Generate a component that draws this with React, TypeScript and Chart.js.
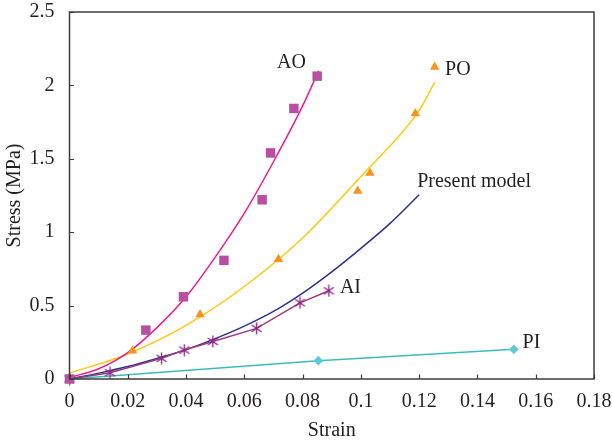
import { useEffect, useRef } from "react";
import { Chart, registerables } from "chart.js";

Chart.register(...registerables);

// Axis ticks
const xTickValues = [0, 0.02, 0.04, 0.06, 0.08, 0.1, 0.12, 0.14, 0.16, 0.18];
const yTickValues = [0, 0.5, 1, 1.5, 2, 2.5];

// AO: measured points and fitted curve
const aoStrain = [0, 0.0262, 0.0391, 0.053, 0.0661, 0.069, 0.077, 0.085];
const aoStress = [0, 0.333, 0.56, 0.808, 1.221, 1.54, 1.843, 2.063];
const aoFitStrain = [0, 0.01, 0.02, 0.03, 0.04, 0.05, 0.06, 0.07, 0.08, 0.0855];
const aoFitStress = [0.01, 0.07, 0.18, 0.35, 0.56, 0.83, 1.13, 1.48, 1.86, 2.1];

// PO: measured points and fitted curve
const poStrain = [0, 0.0216, 0.0448, 0.0717, 0.0989, 0.1031, 0.1187, 0.1253];
const poStress = [0, 0.193, 0.44, 0.815, 1.28, 1.404, 1.809, 2.126];
const poFitStrain = [0, 0.02, 0.04, 0.06, 0.08, 0.1, 0.12, 0.1253];
const poFitStress = [0.04, 0.17, 0.365, 0.63, 0.96, 1.38, 1.83, 2.02];

// Present model
const modelStrain = [0, 0.01, 0.02, 0.03, 0.04, 0.05, 0.06, 0.07, 0.08, 0.09, 0.1, 0.11, 0.12];
const modelStress = [0, 0.04, 0.085, 0.14, 0.2, 0.275, 0.36, 0.46, 0.585, 0.73, 0.89, 1.06, 1.255];

// AI
const aiStrain = [0, 0.0139, 0.0316, 0.0394, 0.0492, 0.0642, 0.0791, 0.089];
const aiStress = [0, 0.043, 0.141, 0.197, 0.256, 0.345, 0.519, 0.601];

// PI
const piStrain = [0, 0.0854, 0.1525];
const piStress = [0, 0.125, 0.202];

const seriesNames = ["AO", "PO", "Present model", "AI", "PI"];

const FONT = "'Liberation Serif', 'DejaVu Serif', serif";
const TEXT = "#231f20";

const pts = (xs: number[], ys: number[]) => xs.map((x, i) => ({ x, y: ys[i] }));

function makeAsterisk(color: string) {
  const c = document.createElement("canvas");
  c.width = 13;
  c.height = 13;
  const g = c.getContext("2d")!;
  g.strokeStyle = color;
  g.lineWidth = 1.4;
  g.beginPath();
  g.moveTo(1.5, 3);
  g.lineTo(11.5, 10);
  g.moveTo(1.5, 10);
  g.lineTo(11.5, 3);
  g.moveTo(6.5, 0.5);
  g.lineTo(6.5, 12.5);
  g.stroke();
  return c;
}

export default function App() {
  const ref = useRef<HTMLCanvasElement | null>(null);

  useEffect(() => {
    if (!ref.current) return;
    const asterisk = makeAsterisk("#8a2a82");

    // label anchors in data units (left edge, vertical centre)
    const labelAnchors = [
      { x: 0.0712, y: 2.151 },
      { x: 0.1289, y: 2.11 },
      { x: 0.1193, y: 1.341 },
      { x: 0.0928, y: 0.619 },
      { x: 0.1555, y: 0.247 },
    ];

    const framePlugin = {
      id: "frame",
      afterDatasetsDraw(chart: any) {
        const { ctx, chartArea: a, scales } = chart;
        ctx.save();
        ctx.strokeStyle = "#3c3c3c";
        ctx.lineWidth = 1.5;
        ctx.strokeRect(a.left, a.top, a.right - a.left, a.bottom - a.top);
        ctx.lineWidth = 1.2;
        ctx.beginPath();
        for (const v of xTickValues) {
          const px = Math.round(scales.x.getPixelForValue(v)) + 0.5;
          ctx.moveTo(px, a.bottom);
          ctx.lineTo(px, a.bottom - 4.5);
        }
        for (const v of yTickValues) {
          const py = Math.round(scales.y.getPixelForValue(v)) + 0.5;
          ctx.moveTo(a.left, py);
          ctx.lineTo(a.left + 4.5, py);
        }
        ctx.stroke();
        ctx.fillStyle = TEXT;
        ctx.font = `20px ${FONT}`;
        ctx.textAlign = "left";
        ctx.textBaseline = "middle";
        seriesNames.forEach((name, i) => {
          const p = labelAnchors[i];
          ctx.fillText(name, scales.x.getPixelForValue(p.x), scales.y.getPixelForValue(p.y));
        });
        ctx.restore();
      },
    };

    const chart = new Chart(ref.current, {
      type: "scatter",
      data: {
        datasets: [
          {
            label: "AO",
            data: pts(aoStrain, aoStress),
            showLine: false,
            pointStyle: "rect",
            pointRadius: 6.7,
            backgroundColor: "#b84fa0",
            borderColor: "#b84fa0",
            borderWidth: 0,
            clip: false,
          },
          {
            label: "PO",
            data: pts(poStrain, poStress),
            showLine: false,
            pointStyle: "triangle",
            pointRadius: 5.5,
            backgroundColor: "#f7931e",
            borderColor: "#f7931e",
            borderWidth: 0,
            clip: false,
          },
          {
            label: "AI",
            data: pts(aiStrain, aiStress),
            showLine: true,
            tension: 0,
            pointStyle: asterisk,
            borderColor: "#9c3b80",
            borderWidth: 1.5,
            backgroundColor: "#8a2a82",
            clip: false,
          },
          {
            label: "PI",
            data: pts(piStrain, piStress),
            showLine: true,
            tension: 0,
            pointStyle: "rectRot",
            pointRadius: 4.8,
            pointBackgroundColor: "#5ec8d8",
            pointBorderWidth: 0,
            borderColor: "#3bbcbc",
            borderWidth: 1.5,
            backgroundColor: "#5ec8d8",
            clip: false,
          },
          {
            label: "AO fit",
            data: pts(aoFitStrain, aoFitStress),
            showLine: true,
            cubicInterpolationMode: "monotone",
            pointRadius: 0,
            borderColor: "#ec1c8c",
            borderWidth: 1.5,
          },
          {
            label: "PO fit",
            data: pts(poFitStrain, poFitStress),
            showLine: true,
            cubicInterpolationMode: "monotone",
            pointRadius: 0,
            borderColor: "#ffc90e",
            borderWidth: 1.5,
          },
          {
            label: "Present model",
            data: pts(modelStrain, modelStress),
            showLine: true,
            cubicInterpolationMode: "monotone",
            pointRadius: 0,
            borderColor: "#2e3192",
            borderWidth: 1.5,
          },
        ],
      },
      options: {
        animation: false,
        responsive: false,
        devicePixelRatio: 1,
        layout: { padding: { top: 12, right: 18, bottom: 0, left: 0 } },
        plugins: { legend: { display: false }, tooltip: { enabled: false } },
        scales: {
          x: {
            type: "linear",
            min: 0,
            max: 0.18,
            afterBuildTicks: (s: any) => {
              s.ticks = xTickValues.map((v) => ({ value: v }));
            },
            afterFit: (s: any) => {
              s.height = 64;
              s.paddingLeft = 0;
              s.paddingRight = 0;
            },
            grid: { display: false },
            border: { display: false },
            ticks: {
              color: TEXT,
              font: { family: FONT, size: 20 },
              padding: 3,
              maxRotation: 0,
              callback: (v: any) => String(Number(Number(v).toFixed(2))),
            },
            title: {
              display: true,
              text: "Strain",
              color: TEXT,
              font: { family: FONT, size: 20 },
              padding: { top: 0, bottom: 0 },
            },
          },
          y: {
            type: "linear",
            min: 0,
            max: 2.5,
            afterBuildTicks: (s: any) => {
              s.ticks = yTickValues.map((v) => ({ value: v }));
            },
            afterFit: (s: any) => {
              s.width = 69.5;
              s.paddingTop = 0;
              s.paddingBottom = 0;
            },
            grid: { display: false },
            border: { display: false },
            ticks: {
              color: TEXT,
              font: { family: FONT, size: 20 },
              padding: 7,
              callback: (v: any) => String(Number(Number(v).toFixed(1))),
            },
            title: {
              display: true,
              text: "Stress (MPa)",
              color: TEXT,
              font: { family: FONT, size: 20 },
              padding: { top: 3, bottom: 0 },
            },
          },
        },
      },
      plugins: [framePlugin],
    } as any);

    return () => chart.destroy();
  }, []);

  return (
    <div style={{ position: "fixed", left: 0, top: 0, width: 612, height: 443, background: "#fff" }}>
      <canvas ref={ref} width={612} height={443} style={{ width: 612, height: 443, display: "block" }} />
    </div>
  );
}
